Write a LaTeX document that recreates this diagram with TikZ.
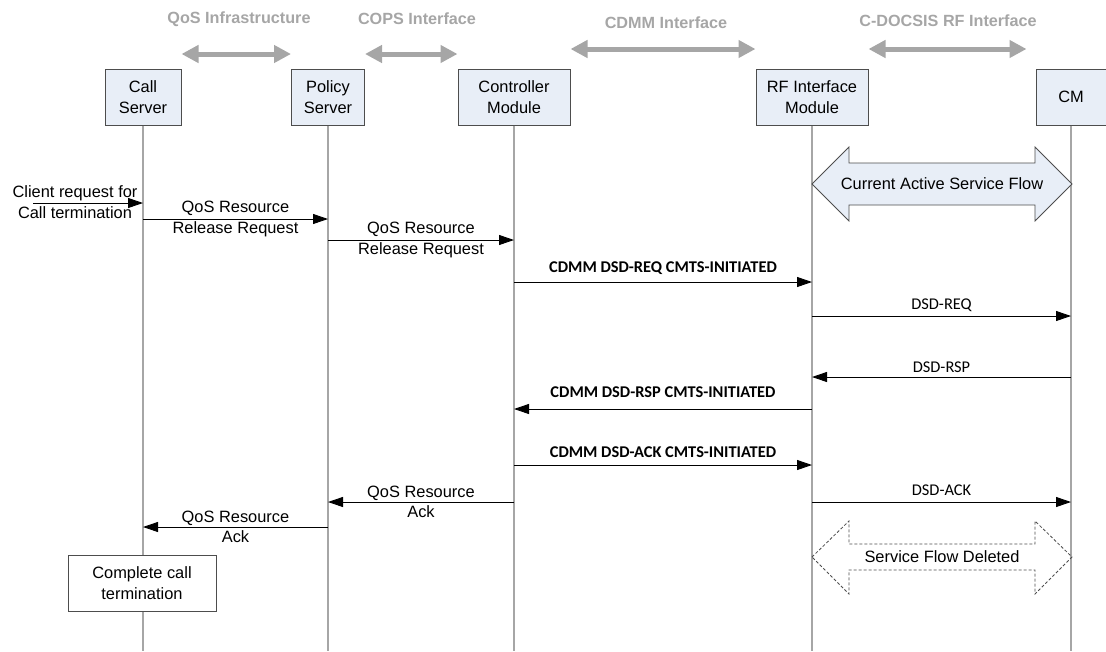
\documentclass[tikz,border=0pt]{standalone}
\usepackage{fontspec}
\setmainfont{Liberation Sans}
\newfontfamily\carlito{Carlito}
\usetikzlibrary{arrows.meta}
\definecolor{boxblue}{HTML}{E8EEF7}
\definecolor{lifegray}{HTML}{A6A6A6}
\definecolor{edgegray}{HTML}{4D4D4D}
\tikzset{
  entity/.style={draw=edgegray, fill=boxblue, line width=1pt, align=center,
    minimum height=56pt, inner sep=0pt},
  lifeline/.style={draw=lifegray, line width=2.5pt},
  iface/.style={draw=lifegray, line width=5pt,
    {Triangle[length=17pt,width=17pt]}-{Triangle[length=17pt,width=17pt]}},
  ifacelabel/.style={text=lifegray, font=\bfseries\fontsize{16.2}{20}\selectfont},
  msg/.style={draw=black, line width=0.9pt, -{Triangle[length=15pt,width=10pt]}},
  lbl/.style={align=center, inner sep=0pt},
  cdmm/.style={font=\carlito\fontsize{16.4}{20}\selectfont, inner sep=0pt},
}
\begin{document}
\begin{tikzpicture}[x=1pt, y=-1pt, font=\fontsize{16.4}{20.5}\selectfont]
      \useasboundingbox (0,0) rectangle (1106,651);
      % entities
      \node[entity, minimum width=76pt] (call) at (143,97) {Call\\Server};
      \node[entity, minimum width=73pt] (policy) at (328,97) {Policy\\Server};
      \node[entity, minimum width=112pt] (ctrl) at (514,97) {Controller\\Module};
      \node[entity, minimum width=112pt] (rf) at (812,97) {RF Interface\\Module};
      \node[entity, minimum width=70pt] (cm) at (1071,97) {CM};
      % interfaces
      \coordinate (ia) at (0,54);
      \coordinate (ib) at (0,49);
      \node[ifacelabel] (qosinfra) at (239,19) {QoS Infrastructure};
      \node[ifacelabel] (cops) at (417,19) {COPS Interface};
      \node[ifacelabel] (cdmmif) at (666,23) {CDMM Interface};
      \node[ifacelabel] (rfif) at (948,21) {C-DOCSIS RF Interface};
      \draw[iface] (call.east |- ia) -- (policy.west |- ia);
      \draw[iface] (policy.east |- ia) -- (ctrl.west |- ia);
      \draw[iface] (ctrl.east |- ib) -- (rf.west |- ib);
      \draw[iface, shorten >=9pt] (rf.east |- ib) -- (cm.west |- ib);
      % lifelines
      \coordinate (bot) at (0,651);
      \draw[lifeline] (call.south) -- (call |- bot);
      \draw[lifeline] (policy.south) -- (policy |- bot);
      \draw[lifeline] (ctrl.south) -- (ctrl |- bot);
      \draw[lifeline] (rf.south) -- (rf |- bot);
      \draw[lifeline] (cm.south) -- (cm |- bot);
      % current flow
      \draw[draw=edgegray, fill=boxblue, line width=0.8pt]
        (812,184) -- (849,147) -- (849,163) -- (1035,163) -- (1035,147)
        -- (1072,184) -- (1035,221) -- (1035,205) -- (849,205) -- (849,221) -- cycle;
      \node (active) at (942,184) {Current Active Service Flow};
      % message rows
      \coordinate (r1) at (0,203);
      \coordinate (r2) at (0,219);
      \coordinate (r3) at (0,240);
      \coordinate (r4) at (0,282);
      \coordinate (r5) at (0,316);
      \coordinate (r6) at (0,377);
      \coordinate (r7) at (0,409);
      \coordinate (r8) at (0,465);
      \coordinate (r9) at (0,502);
      \coordinate (r10) at (0,527);
      \coordinate (client) at (33,203);
      \node[lbl] (clientlbl) at (75,202) {Client request for\\Call termination};
      \draw[msg] (client) -- (call |- r1);
      \draw[msg] (call |- r2) -- node[lbl] {QoS Resource\\Release Request} (policy |- r2);
      \draw[msg] (policy |- r3) -- node[lbl] {QoS Resource\\Release Request} (ctrl |- r3);
      \draw[msg] (ctrl |- r4) -- node[cdmm, yshift=14pt] {\bfseries CDMM DSD-REQ CMTS-INITIATED} (rf |- r4);
      \draw[msg] (rf |- r5) -- node[cdmm, yshift=11pt] {DSD-REQ} (cm |- r5);
      \draw[msg] (cm |- r6) -- node[cdmm, yshift=10pt] {DSD-RSP} (rf |- r6);
      \draw[msg] (rf |- r7) -- node[cdmm, yshift=17pt] {\bfseries CDMM DSD-RSP CMTS-INITIATED} (ctrl |- r7);
      \draw[msg] (ctrl |- r8) -- node[cdmm, yshift=13pt] {\bfseries CDMM DSD-ACK CMTS-INITIATED} (rf |- r8);
      \draw[msg] (ctrl |- r9) -- node[lbl] {QoS Resource\\Ack} (policy |- r9);
      \draw[msg] (rf |- r9) -- node[cdmm, yshift=12pt] {DSD-ACK} (cm |- r9);
      \draw[msg] (policy |- r10) -- node[lbl] {QoS Resource\\Ack} (call |- r10);
      % deleted flow
      \draw[draw=edgegray, line width=0.8pt, dash pattern=on 3pt off 2pt]
        (812,557) -- (849,521) -- (849,544) -- (1035,544) -- (1035,521)
        -- (1072,557) -- (1035,594) -- (1035,570) -- (849,570) -- (849,594) -- cycle;
      \node (deleted) at (942,557) {Service Flow Deleted};
      % end
      \node[draw=edgegray, fill=white, line width=1pt, align=center,
        minimum width=148pt, minimum height=56pt] (done) at (142,583) {Complete call\\termination};
    \end{tikzpicture}
\end{document}
